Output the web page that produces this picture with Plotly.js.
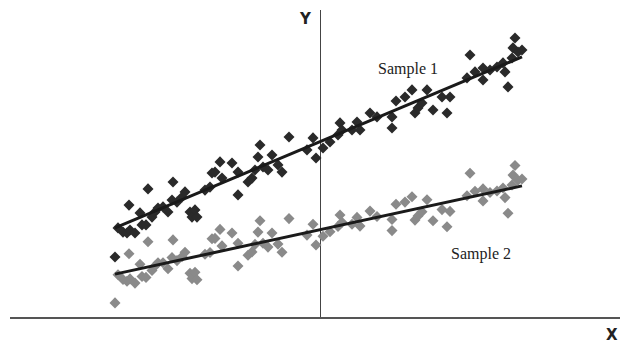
<!DOCTYPE html>
<html>
<head>
<meta charset="utf-8">
<script src="https://cdn.plot.ly/plotly-3.0.1.min.js"></script>
<style>html,body{margin:0;padding:0;background:#fff;}#chart{width:620px;height:343px;}</style>
</head>
<body>
<div id="chart"></div>
<script>
// Shared x values (same x for both samples)
var xValues = [-51.25,-50.5,-49.25,-48.25,-47.5,-46.25,-47.75,-45,-44.5,-43.5,-43,-41.25,-42,-40.5,-39.25,-38,-37,-36.75,-35.75,-34.5,-33.75,-32.5,-32,-31.25,-30.75,-28.75,-27.5,-27,-26.25,-25,-24.5,-22,-20.5,-20.5,-18,-17,-16.25,-15.5,-15,-14.25,-13,-12,-10.5,-9.5,-7.75,-3.25,-1.75,-1,0.75,2.5,4.5,5,5.5,8,9.25,10,12.5,14.25,18,18,19,21.25,23,23.75,24.5,25.5,26.75,28.25,30.5,31.75,32.5,36.75,37.5,38.75,40.75,40.75,42.5,44.25,46.25,47,48,48.25,48.75,49.5,50.5,45.75];
var sample1 = [20.0,29.7,28.3,28.0,29.0,28.0,37.3,34.7,30.7,30.7,42.7,35.0,33.3,36.3,36.7,35.0,39.0,45.0,38.3,40.0,41.7,35.0,33.3,35.7,33.3,42.3,43.3,48.0,48.3,51.7,46.3,51.3,48.3,40.7,45.0,46.3,49.0,53.3,57.3,50.0,49.0,54.0,50.7,48.3,60.0,55.7,59.7,53.0,56.3,58.3,60.7,64.7,62.3,62.3,65.0,62.3,68.0,66.7,66.7,63.0,72.0,73.3,75.7,68.0,69.7,71.3,75.7,69.0,73.3,68.0,73.3,79.7,87.3,81.7,83.0,79.0,82.3,83.3,81.7,76.7,86.3,89.7,93.0,88.3,89.0,84.7];
var sample2 = [4.7,14.1,12.5,11.9,12.7,11.3,21.1,17.6,13.5,13.2,25.1,17.0,15.5,18.1,18.1,16.1,19.8,25.7,18.8,20.1,21.6,14.6,12.8,14.9,12.4,20.9,21.5,26.1,26.2,29.2,23.7,28.0,24.6,17.0,20.6,21.7,24.2,28.3,32.1,24.6,23.3,28.0,24.3,21.6,32.8,27.3,30.9,24.0,26.9,28.4,30.2,34.0,31.6,30.9,33.2,30.3,35.3,33.5,32.5,28.8,37.6,38.3,40.1,32.3,33.7,35.1,39.1,32.1,35.8,30.1,35.2,40.4,47.9,41.9,42.7,38.7,41.5,42.0,39.8,34.6,44.0,47.3,50.5,45.6,46.0,43.0];
// Fitted lines
var lineX = [-51.25, 50.5];
var line1Y = [29.7, 86.7];
var line2Y = [14.3, 43.7];
var labels = ["Sample 1", "Sample 2"];

var traces = [
  {x: xValues, y: sample2, type: 'scatter', mode: 'markers', marker: {symbol: 'diamond', size: 8.5, color: '#8a8a8a'}, hoverinfo: 'skip'},
  {x: xValues, y: sample1, type: 'scatter', mode: 'markers', marker: {symbol: 'diamond', size: 8.5, color: '#2a2a2a'}, hoverinfo: 'skip'},
  {x: lineX, y: line1Y, type: 'scatter', mode: 'lines', line: {color: '#1a1a1a', width: 3}, hoverinfo: 'skip'},
  {x: lineX, y: line2Y, type: 'scatter', mode: 'lines', line: {color: '#1a1a1a', width: 3}, hoverinfo: 'skip'}
];

var serif = {family: '"Liberation Serif", "Times New Roman", serif', size: 16, color: '#222'};
var layout = {
  width: 620, height: 343,
  margin: {l: 10, r: 0, t: 10, b: 26, pad: 0},
  paper_bgcolor: '#fff', plot_bgcolor: '#fff',
  showlegend: false,
  xaxis: {range: [-77.5, 75], showgrid: false, zeroline: true, zerolinecolor: '#444', zerolinewidth: 1,
          showline: true, linecolor: '#555', linewidth: 2, showticklabels: false, ticks: '', fixedrange: true},
  yaxis: {range: [0, 102.33], showgrid: false, zeroline: false, showline: false, showticklabels: false, ticks: '', fixedrange: true},
  annotations: [
    {x: 22, y: 82.5, xref: 'x', yref: 'y', text: labels[0], showarrow: false, font: serif},
    {x: 40.25, y: 21, xref: 'x', yref: 'y', text: labels[1], showarrow: false, font: serif},
    {x: -3.75, y: 99.3, xref: 'x', yref: 'y', yanchor: 'middle', text: '<b>Y</b>', showarrow: false,
     font: {family: '"DejaVu Sans", Arial, sans-serif', size: 15, color: '#222'}},
    {x: 1, y: -0.058, xref: 'paper', yref: 'paper', xanchor: 'right', yanchor: 'middle', text: '<b>X</b>', showarrow: false,
     font: {family: '"DejaVu Sans", Arial, sans-serif', size: 15, color: '#222'}}
  ]
};
Plotly.newPlot('chart', traces, layout, {displayModeBar: false, staticPlot: true});
</script>
</body>
</html>
